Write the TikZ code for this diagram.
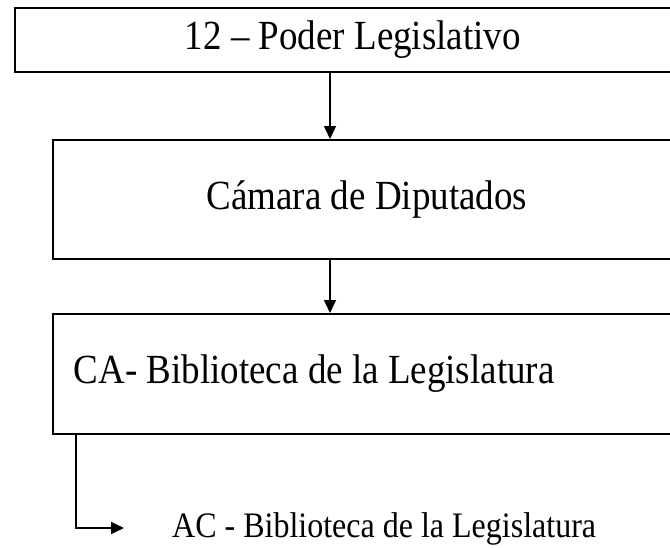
\documentclass[tikz,border=0pt]{standalone}
\usepackage{fontspec}
\setmainfont{Liberation Serif}
\usetikzlibrary{arrows.meta}
\newcommand{\tallt}[1]{\scalebox{1}[1.12]{#1}}
\begin{document}
\begin{tikzpicture}[x=1pt,y=-1pt,
  box/.style={draw=black,line width=1.8pt,rectangle,anchor=north west,inner sep=0pt,
    font=\fontsize{37}{44}\selectfont},
  conn/.style={draw=black,line width=1.4pt,-{Triangle[length=13pt,width=12pt]}}]
\useasboundingbox (0,0) rectangle (670,547);
\clip (0,0) rectangle (670,547);
\fill[white] (0,0) rectangle (670,547);
\node[box,minimum width=676pt,minimum height=64pt] (b1) at (14,7) {\tallt{12 – Poder Legislativo}};
\node[box,minimum width=628pt,minimum height=119pt] (b2) at (52,139) {\tallt{Cámara de Diputados}};
\node[box,line width=1.5pt,minimum width=628pt,minimum height=120pt] (b3) at (52,313) {\makebox[628pt][l]{\hspace{21pt}\tallt{CA- Biblioteca de la Legislatura}}};
\node[anchor=base west,inner sep=0pt,font=\fontsize{32}{38}\selectfont] (ac) at (172,537) {\tallt{AC - Biblioteca de la Legislatura}};
\coordinate (ax) at (330,0);
\coordinate (bx) at (76,0);
\coordinate (tip) at (124,528);
\draw[conn] (b1.south -| ax) -- (b2.north -| ax);
\draw[conn] (b2.south -| ax) -- (b3.north -| ax);
\draw[conn] (b3.south -| bx) |- (tip);
\end{tikzpicture}
\end{document}
